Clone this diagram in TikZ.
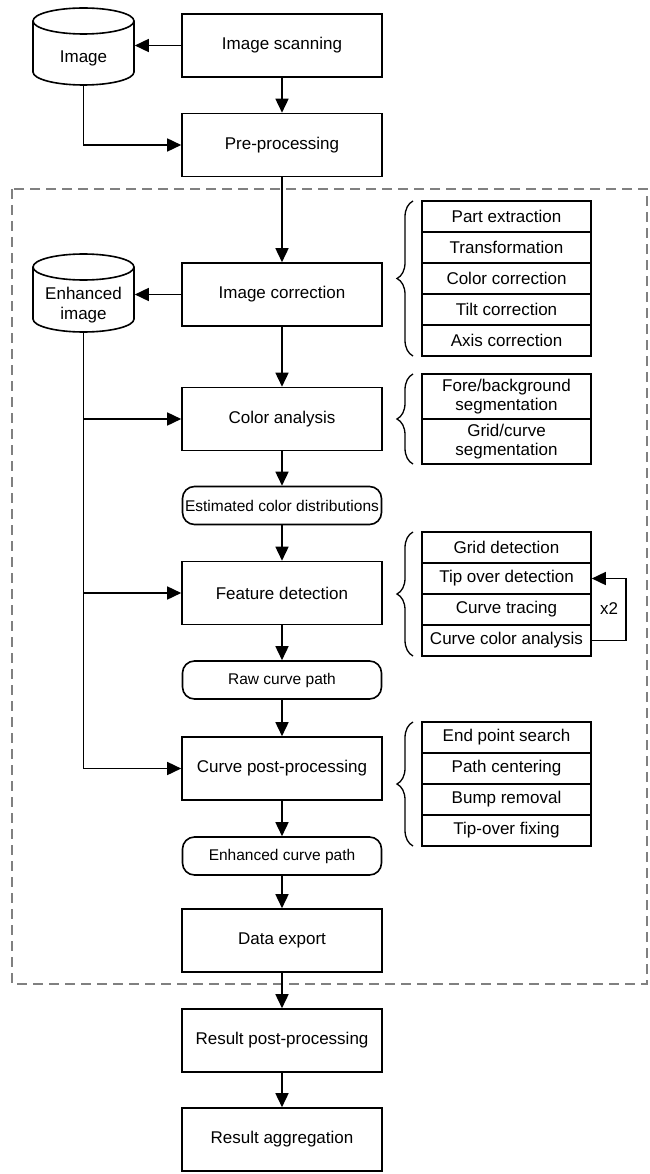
\documentclass[tikz,border=0pt]{standalone}
\usepackage{fontspec}
\setmainfont{Liberation Sans}
\usetikzlibrary{arrows.meta,decorations.pathreplacing}
\begin{document}
\begin{tikzpicture}[x=1pt,y=-1pt,line width=1.6pt,
  proc/.style={draw, minimum width=200pt, minimum height=63pt, inner sep=0pt, font=\fontsize{17}{20}\selectfont},
  term/.style={draw, rounded corners=12pt, minimum width=199pt, minimum height=38pt, inner sep=0pt, font=\fontsize{15.5}{18}\selectfont},
  item/.style={draw, minimum width=169pt, minimum height=31pt, inner sep=0pt, align=center, font=\fontsize{17}{20}\selectfont},
  item2/.style={item, minimum height=45pt, font=\fontsize{17}{19}\selectfont},
  txt/.style={inner sep=0pt, align=center, font=\fontsize{17}{20}\selectfont},
  ghost/.style={minimum width=101pt, minimum height=78pt, inner sep=0pt},
  arr/.style={-{Triangle[length=14pt,width=13pt]}},
  brc/.style={decorate, decoration={brace, amplitude=16pt}, line width=1.3pt},
  frame/.style={draw=black!50, dash pattern=on 10pt off 6pt, line width=1.5pt}]
\useasboundingbox (0,0) rectangle (649,1174);

% dashed frame
\draw[frame] (12,189) rectangle (647,984);

% main column
\node[proc] (scan) at (282,45.5) {Image scanning};
\node[proc] (pre) at (282,145) {Pre-processing};
\node[proc] (corr) at (282,294.5) {Image correction};
\node[proc] (color) at (282,419) {Color analysis};
\node[term] (est) at (282,505.5) {Estimated color distributions};
\node[proc] (feat) at (282,593) {Feature detection};
\node[term] (raw) at (282,680) {Raw curve path};
\node[proc] (cpp) at (282,768.5) {Curve post-processing};
\node[term] (ecp) at (282,856) {Enhanced curve path};
\node[proc] (data) at (282,940.5) {Data export};
\node[proc] (rpp) at (282,1040.5) {Result post-processing};
\node[proc] (ragg) at (282,1139.5) {Result aggregation};

% cylinders
\node[ghost] (img) at (83.5,46.5) {};
\draw (83.5,21) ellipse [x radius=50.5pt, y radius=13pt];
\draw (33,21) -- (33,72) arc[start angle=180, end angle=360, x radius=50.5pt, y radius=13pt] -- (134,21);
\node[txt] (imgt) at (83.5,58) {Image};

\node[ghost] (enh) at (83.5,293) {};
\draw (83.5,267) ellipse [x radius=50.5pt, y radius=13pt];
\draw (33,267) -- (33,319) arc[start angle=180, end angle=360, x radius=50.5pt, y radius=13pt] -- (134,267);
\node[txt] (enht) at (83.5,305) {Enhanced\\image};

% side lists
\node[item] (pe) at (506.5,216.5) {Part extraction};
\node[item] (tr) at (506.5,247.5) {Transformation};
\node[item] (cc) at (506.5,278.5) {Color correction};
\node[item] (tc) at (506.5,309.5) {Tilt correction};
\node[item] (ac) at (506.5,340.5) {Axis correction};

\node[item2] (fb) at (506.5,396.5) {Fore/background\\segmentation};
\node[item2] (gc) at (506.5,441.5) {Grid/curve\\segmentation};

\node[item] (gd) at (506.5,547.5) {Grid detection};
\node[item] (tip) at (506.5,578.5) {Tip over detection};
\node[item] (ct) at (506.5,609.5) {Curve tracing};
\node[item] (cca) at (506.5,640.5) {Curve color analysis};

\node[item] (eps) at (506.5,737.5) {End point search};
\node[item] (pc) at (506.5,768.5) {Path centering};
\node[item] (br) at (506.5,799.5) {Bump removal};
\node[item] (tof) at (506.5,830.5) {Tip-over fixing};

% braces
\draw[brc] (413,356) -- (413,201);
\draw[brc] (413,464) -- (413,374);
\draw[brc] (413,656) -- (413,532);
\draw[brc] (413,846) -- (413,722);

% loop
\draw[arr] (cca.east) -- ++(34,0) |- (tip.east);
\node[txt] (x2) at (609,609) {x2};

% flow arrows
\draw[arr] (scan.west) -- (scan.west -| img.east);
\draw[arr] (img.south) |- (pre.west);
\draw[arr] (scan) -- (pre);
\draw[arr] (pre) -- (corr);
\draw[arr] (corr.west) -- (corr.west -| enh.east);
\draw[arr] (corr) -- (color);
\draw[arr] (color) -- (est);
\draw[arr] (est) -- (feat);
\draw[arr] (feat) -- (raw);
\draw[arr] (raw) -- (cpp);
\draw[arr] (cpp) -- (ecp);
\draw[arr] (ecp) -- (data);
\draw[arr] (data) -- (rpp);
\draw[arr] (rpp) -- (ragg);

\draw[arr] (enh.south) |- (cpp.west);
\draw[arr] (enh.south |- color.west) -- (color.west);
\draw[arr] (enh.south |- feat.west) -- (feat.west);
\end{tikzpicture}
\end{document}
